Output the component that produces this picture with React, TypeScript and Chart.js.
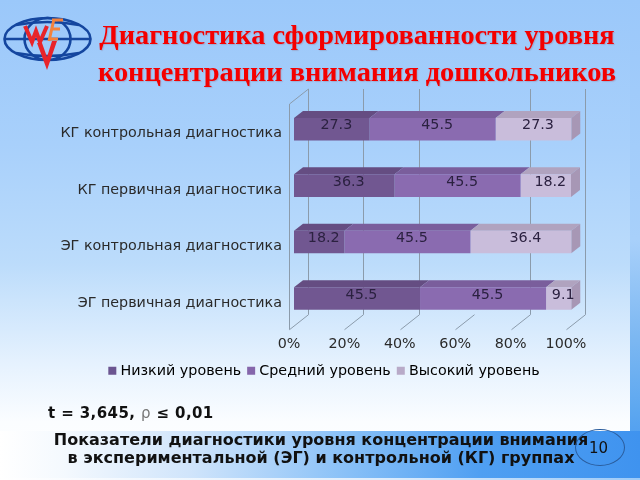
import React, { useEffect, useRef } from "react";
import { Chart, registerables } from "chart.js";

Chart.register(...registerables);

const categories = [
  "КГ контрольная диагностика",
  "КГ первичная диагностика",
  "ЭГ контрольная диагностика",
  "ЭГ первичная диагностика",
];
const lowLevel = [27.3, 36.3, 18.2, 45.5];
const midLevel = [45.5, 45.5, 45.5, 45.5];
const highLevel = [27.3, 18.2, 36.4, 9.1];
const seriesNames = ["Низкий уровень", "Средний уровень", "Высокий уровень"];
const xTicks = [0, 20, 40, 60, 80, 100];
const wallGridMissing = [60];

const FONT = "'DejaVu Sans', sans-serif";
const FONT_SIZE = 14.3;
const front = ["#715791", "#8a6bb0", "#c9bddb"];
const topFace = ["#654d82", "#7a5e9c", "#b0a3bf"];
const legendBox = ["#6b5590", "#8566ab", "#b8aac8"];
const sideFace = "#a797b5";
const gridColor = "#8b9bab";

const WALL_DX = 19;
const WALL_DY = 15;
const BAR_DX = 9;
const BAR_DY = 7;
const SHIFT_X = 5;
const SHIFT_Y = 3;

const bar3d = {
  id: "bar3d",
  afterLayout(chart: any) {
    if (chart.legend) {
      chart.legend.left = 9;
      chart.legend.right = 642;
      chart.legend.top += 1;
      chart.legend.bottom += 1;
    }
  },
  beforeDatasetsDraw(chart: any) {
    const { ctx, chartArea, scales } = chart;
    const x = scales.x;
    ctx.save();
    ctx.strokeStyle = gridColor;
    ctx.lineWidth = 1;
    ctx.beginPath();
    xTicks.forEach((t) => {
      const px = Math.round(x.getPixelForValue(t)) + 0.5;
      ctx.moveTo(px, chartArea.bottom);
      ctx.lineTo(px + WALL_DX, chartArea.bottom - WALL_DY);
      if (!wallGridMissing.includes(t)) {
        ctx.moveTo(px + WALL_DX, chartArea.bottom - WALL_DY);
        ctx.lineTo(px + WALL_DX, chartArea.top - WALL_DY);
      }
    });
    const left = Math.round(chartArea.left) + 0.5;
    ctx.moveTo(left, chartArea.bottom);
    ctx.lineTo(left, chartArea.top);
    ctx.lineTo(left + WALL_DX, chartArea.top - WALL_DY);
    ctx.stroke();
    ctx.restore();

    ctx.save();
    ctx.translate(SHIFT_X, -SHIFT_Y);
    chart.data.datasets.forEach((_: any, di: number) => {
      chart.getDatasetMeta(di).data.forEach((bar: any) => {
        const { x: end, y, base, height } = bar.getProps(["x", "y", "base", "height"], true);
        const t = y - height / 2;
        const b = y + height / 2;
        ctx.fillStyle = topFace[di];
        ctx.beginPath();
        ctx.moveTo(base, t);
        ctx.lineTo(base + BAR_DX, t - BAR_DY);
        ctx.lineTo(end + BAR_DX, t - BAR_DY);
        ctx.lineTo(end, t);
        ctx.closePath();
        ctx.fill();
        if (di === chart.data.datasets.length - 1) {
          ctx.fillStyle = sideFace;
          ctx.beginPath();
          ctx.moveTo(end, t);
          ctx.lineTo(end + BAR_DX, t - BAR_DY);
          ctx.lineTo(end + BAR_DX, b - BAR_DY);
          ctx.lineTo(end, b);
          ctx.closePath();
          ctx.fill();
        }
      });
    });
  },
  afterDatasetsDraw(chart: any) {
    const { ctx } = chart;
    chart.data.datasets.forEach((ds: any, di: number) => {
      chart.getDatasetMeta(di).data.forEach((bar: any, i: number) => {
        const { x: end, y, base } = bar.getProps(["x", "y", "base"], true);
        ctx.fillStyle = "#2b2140";
        ctx.font = `${FONT_SIZE}px ${FONT}`;
        ctx.textAlign = "center";
        ctx.textBaseline = "middle";
        ctx.fillText(String(ds.data[i]), (base + end + BAR_DX) / 2, y - BAR_DY / 2);
      });
    });
    ctx.restore();
  },
};

export default function App() {
  const ref = useRef<HTMLCanvasElement>(null);
  useEffect(() => {
    const chart = new Chart(ref.current!, {
      type: "bar",
      data: {
        labels: categories,
        datasets: [lowLevel, midLevel, highLevel].map((data, i) => ({
          label: seriesNames[i],
          data,
          backgroundColor: front[i],
          clip: false as any,
        })),
      },
      options: {
        indexAxis: "y",
        responsive: false,
        animation: false,
        barPercentage: 0.4,
        categoryPercentage: 1,
        layout: { padding: { left: 7, top: 104, right: 74, bottom: 93 } },
        scales: {
          x: {
            stacked: true,
            min: 0,
            max: 100,
            afterFit: (s: any) => { s.height = 24; },
            afterBuildTicks: (s: any) => { s.ticks = xTicks.map((value) => ({ value })); },
            grid: { display: false },
            border: { display: false },
            ticks: {
              color: "#2a2a2a",
              font: { family: FONT, size: FONT_SIZE },
              padding: -2,
              maxRotation: 0,
              callback: (v: any) => `${v}%`,
            },
          },
          y: {
            stacked: true,
            afterFit: (s: any) => { s.width = 282; },
            grid: { display: false },
            border: { display: false },
            ticks: {
              color: "#2a2a2a",
              font: { family: FONT, size: FONT_SIZE },
              padding: -1,
              labelOffset: 1.5,
            },
          },
        },
        plugins: {
          tooltip: { enabled: false },
          legend: {
            position: "bottom",
            labels: {
              boxWidth: 2,
              boxHeight: 2,
              padding: 9,
              color: "#2a2a2a",
              font: { family: FONT, size: FONT_SIZE },
              generateLabels: () =>
                seriesNames.map((text, i) => ({
                  text,
                  fillStyle: legendBox[i],
                  strokeStyle: legendBox[i],
                  lineWidth: 6,
                  datasetIndex: i,
                  hidden: false,
                })),
            },
          },
        },
      } as any,
      plugins: [bar3d],
    } as any);
    return () => chart.destroy();
  }, []);

  return (
    <div
      style={{
        position: "fixed",
        left: 0,
        top: 0,
        width: 640,
        height: 480,
        overflow: "hidden",
        background:
          "linear-gradient(180deg,#9bc8fa 0%,#a8d0fb 30%,#bcdcfb 55%,#e6f2fe 76%,#fbfdff 88%,#ffffff 100%)",
        fontFamily: FONT,
      }}
    >
      {/* right frame strip */}
      <div
        style={{
          position: "absolute",
          left: 630,
          top: 0,
          width: 10,
          height: 480,
          background: "linear-gradient(180deg,#9bc8fa 0%,#a8d0fa 50%,#7db8f2 70%,#5ea8f0 85%,#3f93ef 100%)",
        }}
      />
      {/* bottom band */}
      <div
        style={{
          position: "absolute",
          left: 0,
          top: 431,
          width: 640,
          height: 47,
          background:
            "linear-gradient(90deg,#ffffff 0%,#f4f9fe 10%,#cfe4fb 30%,#86bff7 55%,#4f9ff2 75%,#3f93ef 100%)",
        }}
      />
      <div
        style={{
          position: "absolute",
          left: 0,
          top: 478,
          width: 640,
          height: 2,
          background: "linear-gradient(90deg,#ffffff 0%,#dcecfc 60%,#9ccaf8 100%)",
        }}
      />
      <canvas ref={ref} width={640} height={480} style={{ position: "absolute", left: 0, top: 0 }} />

      {/* logo */}
      <svg width={100} height={80} style={{ position: "absolute", left: 0, top: 0 }}>
        <g fill="none" stroke="#14469f" strokeWidth={2.6}>
          <ellipse cx={47.5} cy={39} rx={43} ry={21} />
          <ellipse cx={47.5} cy={39} rx={23} ry={21} />
          <path d="M5 39H90M16 25Q47 19 79 25M16 53Q47 59 79 53" />
        </g>
        <path d="M25 26L32 42L36 31L40 42L47 26" fill="none" stroke="#e8242a" strokeWidth={4} />
        <path d="M52 20H63M51 29H60M49 39H58M54 19L49 41" fill="none" stroke="#f4823c" strokeWidth={3} />
        <path d="M37 43L47 70L57 41L52 41L47 57L42 43Z" fill="#e8242a" />
      </svg>

      <div
        style={{
          position: "absolute",
          left: 57,
          top: 16,
          width: 600,
          textAlign: "center",
          color: "#f40000",
          fontFamily: "'Liberation Serif', serif",
          fontWeight: 700,
          fontSize: 28.3,
          lineHeight: "37px",
          textShadow: "1px 1px 1px rgba(150,110,130,.3)",
          whiteSpace: "nowrap",
        }}
      >
        Диагностика сформированности уровня
        <br />
        концентрации внимания дошкольников
      </div>

      <div
        style={{
          position: "absolute",
          left: 48,
          top: 405,
          fontSize: 15,
          letterSpacing: 0.4,
          fontWeight: 700,
          lineHeight: "16px",
          color: "#111",
          whiteSpace: "nowrap",
        }}
      >
        t = 3,645, <span style={{ color: "#777", fontWeight: 400 }}>ρ</span> ≤ 0,01
      </div>

      <div
        style={{
          position: "absolute",
          left: 0,
          top: 431,
          width: 642,
          textAlign: "center",
          fontSize: 16,
          fontWeight: 700,
          lineHeight: "18px",
          color: "#111",
          whiteSpace: "nowrap",
        }}
      >
        Показатели диагностики уровня концентрации внимания
        <br />
        в экспериментальной (ЭГ) и контрольной (КГ) группах
      </div>

      <div
        style={{
          position: "absolute",
          left: 575,
          top: 429,
          width: 50,
          height: 37,
          boxSizing: "border-box",
          border: "1px solid #2a5c9c",
          borderRadius: "50%",
          textAlign: "center",
          lineHeight: "36px",
          fontSize: 15,
          paddingRight: 3,
          color: "#111",
        }}
      >
        10
      </div>
    </div>
  );
}
